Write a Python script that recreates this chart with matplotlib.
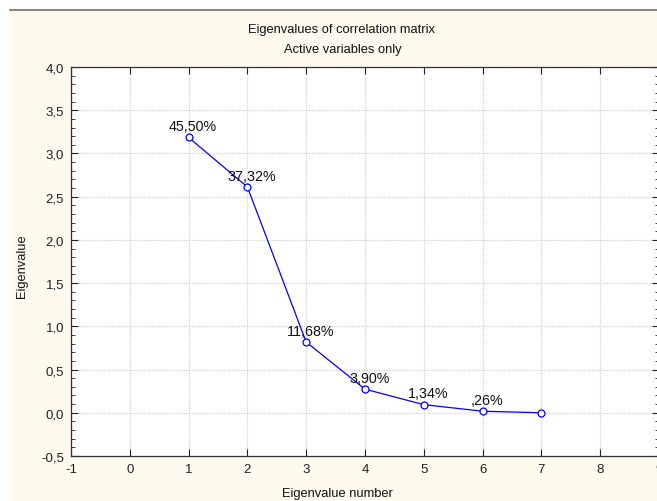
import matplotlib
matplotlib.use("Agg")
import matplotlib.pyplot as plt
from matplotlib.patches import Rectangle
from matplotlib.lines import Line2D
from matplotlib.ticker import FuncFormatter, MultipleLocator

plt.rcParams['font.family'] = ['Liberation Sans', 'DejaVu Sans']

eig_number = [1, 2, 3, 4, 5, 6, 7]
eigenvalues = [3.185, 2.612, 0.818, 0.273, 0.094, 0.018, 0.0]
pct_labels = ["45,50%", "37,32%", "11,68%", "3,90%", "1,34%", ",26%"]

W, H = 657, 502
fig = plt.figure(figsize=(W / 100, H / 100), dpi=100)
fig.patch.set_facecolor('white')

# cream background panel
fig.patches.append(Rectangle((10 / W, 0), 1, 1 - 11 / H, transform=fig.transFigure,
                             facecolor='#FFF9EE', edgecolor='none', zorder=-10))
fig.lines.append(Line2D([10 / W, 1], [1 - 11 / H, 1 - 11 / H], transform=fig.transFigure,
                        color='#707070', lw=1.2, zorder=-9))

left, right, top, bottom = 71, 659, 68, 457
ax = fig.add_axes([left / W, 1 - bottom / H, (right - left) / W, (bottom - top) / H])
ax.set_facecolor('white')

ax.plot(eig_number, eigenvalues, color='#0000FF', lw=0.9, marker='o', markersize=5,
        markerfacecolor='white', markeredgecolor='#0000FF', markeredgewidth=0.9, zorder=3)

for xv, yv, lab in zip(eig_number, eigenvalues, pct_labels):
    ax.annotate(lab, (xv, yv), xytext=(3, 3), textcoords='offset points',
                ha='center', va='bottom', fontsize=10.3, color='#111111', zorder=4)

ax.set_xlim(-1, 9)
ax.set_ylim(-0.5, 4.0)
ax.xaxis.set_major_locator(MultipleLocator(1))
ax.yaxis.set_major_locator(MultipleLocator(0.5))
ax.yaxis.set_minor_locator(MultipleLocator(0.1))
fmt_y = FuncFormatter(lambda v, p: f"{v:.1f}".replace('.', ','))
ax.yaxis.set_major_formatter(fmt_y)
ax.xaxis.set_major_formatter(FuncFormatter(lambda v, p: f"{int(round(v))}"))

ax.grid(True, which='major', color='#D0D0D0', linestyle=(0, (1, 1)), lw=0.9)
ax.set_axisbelow(True)
ax.tick_params(axis='both', which='both', direction='in', top=True, right=True,
               labelsize=9.5, colors='#222222', pad=5)
ax.tick_params(axis='both', which='major', length=5, width=0.8)
ax.tick_params(axis='y', which='minor', length=3, width=0.6)
for s in ax.spines.values():
    s.set_color('#333333')
    s.set_linewidth(0.9)

fig.text(341 / W, 1 - 30 / H, "Eigenvalues of correlation matrix",
         ha='center', va='center', fontsize=9.3, color='#111111')
fig.text(343 / W, 1 - 50 / H, "Active variables only",
         ha='center', va='center', fontsize=9.3, color='#111111')
fig.text(337 / W, 1 - 494 / H, "Eigenvalue number", ha='center', va='center',
         fontsize=9.3, color='#111111')
fig.text(22 / W, 1 - 266 / H, "Eigenvalue", ha='center', va='center', rotation=90,
         fontsize=9.3, color='#111111')

fig.savefig("out.png", dpi=100, facecolor=fig.get_facecolor())
